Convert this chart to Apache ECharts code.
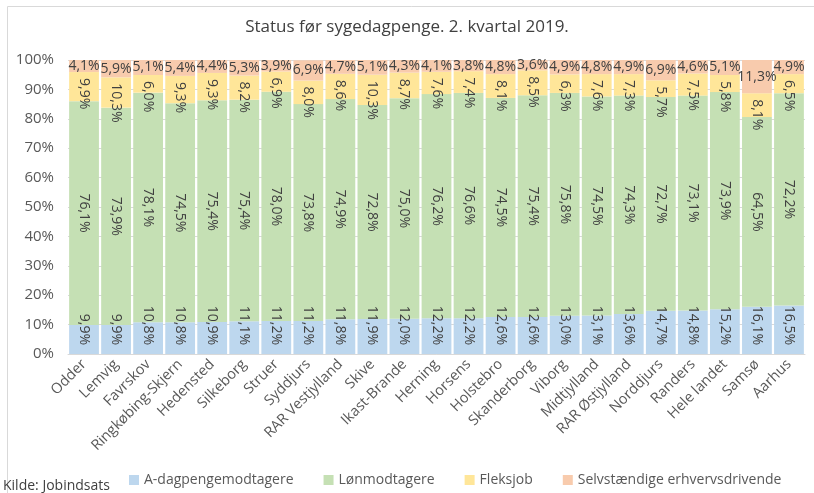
<!DOCTYPE html>
<html><head><meta charset="utf-8">
<script src="https://cdn.jsdelivr.net/npm/echarts@6/dist/echarts.min.js"></script>
<style>html,body{margin:0;padding:0;background:#fff}#c{width:814px;height:493px}</style>
</head><body><div id="c"></div>
<script>
var categories = ['Odder','Lemvig','Favrskov','Ringkøbing-Skjern','Hedensted','Silkeborg','Struer','Syddjurs','RAR Vestjylland','Skive','Ikast-Brande','Herning','Horsens','Holstebro','Skanderborg','Viborg','Midtjylland','RAR Østjylland','Norddjurs','Randers','Hele landet','Samsø','Aarhus'];
var aDagpenge = [9.9,9.9,10.8,10.8,10.9,11.1,11.2,11.2,11.8,11.9,12.0,12.2,12.2,12.6,12.6,13.0,13.1,13.6,14.7,14.8,15.2,16.1,16.5];
var loenmodtagere = [76.1,73.9,78.1,74.5,75.4,75.4,78.0,73.8,74.9,72.8,75.0,76.2,76.6,74.5,75.4,75.8,74.5,74.3,72.7,73.1,73.9,64.5,72.2];
var fleksjob = [9.9,10.3,6.0,9.3,9.3,8.2,6.9,8.0,8.6,10.3,8.7,7.6,7.4,8.1,8.5,6.3,7.6,7.3,5.7,7.5,5.8,8.1,6.5];
var selvstaendige = [4.1,5.9,5.1,5.4,4.4,5.3,3.9,6.9,4.7,5.1,4.3,4.1,3.8,4.8,3.6,4.9,4.8,4.9,6.9,4.6,5.1,11.3,4.9];
var seriesNames = ['A-dagpengemodtagere','Lønmodtagere','Fleksjob','Selvstændige erhvervsdrivende'];
var yTicks = [0,10,20,30,40,50,60,70,80,90,100];

var FONT = '"Open Sans", "Noto Sans", sans-serif';
function fmt(p){ return p.value.toFixed(1).replace('.', ',') + '%'; }
var lbl = {show:true, formatter: fmt, color:'#404040', fontSize:14, fontFamily: FONT};

var chart = echarts.init(document.getElementById('c'));
chart.setOption({
  animation:false,
  title:{text:'Status før sygedagpenge. 2. kvartal 2019.', left:'center', top:14,
    textStyle:{fontSize:17, fontWeight:'normal', color:'#404040', fontFamily: FONT}},
  grid:{left:68, right:9, top:60, bottom:139},
  legend:{bottom:1, left:124, itemWidth:10, itemHeight:10, itemGap:30, icon:'rect', width:700,
    textStyle:{fontSize:14, color:'#595959', fontFamily: FONT}, data: seriesNames},
  graphic:[
    {type:'rect', shape:{x:7.5, y:6.5, width:900, height:600}, style:{fill:'none', stroke:'#D9D9D9', lineWidth:1}, silent:true},
    {type:'text', left:3, bottom:0, style:{text:'Kilde: Jobindsats', fontSize:14, fill:'#404040', fontFamily: FONT}}],
  xAxis:{type:'category', data:categories,
    axisLine:{lineStyle:{color:'#D9D9D9'}}, axisTick:{show:false},
    axisLabel:{rotate:45, interval:0, fontSize:14.5, color:'#595959', fontFamily: FONT, margin:8}},
  yAxis:{type:'value', min:0, max:100, interval:10,
    axisLabel:{formatter: function(v){return v+'%';}, fontSize:15, color:'#595959', fontFamily: FONT, margin:14},
    splitLine:{lineStyle:{color:'#D9D9D9'}}, axisLine:{show:false}, axisTick:{show:false}},
  series:[
    {name:seriesNames[0], type:'bar', stack:'s', data:aDagpenge, barCategoryGap:'7%',
      itemStyle:{color:'#BDD7EE'},
      label:Object.assign({}, lbl, {position:'insideBottom', rotate:-90, align:'right', verticalAlign:'middle', distance:9})},
    {name:seriesNames[1], type:'bar', stack:'s', data:loenmodtagere,
      itemStyle:{color:'#C5E0B4'},
      label:Object.assign({}, lbl, {position:'inside', rotate:-90, align:'center', verticalAlign:'middle'})},
    {name:seriesNames[2], type:'bar', stack:'s', data:fleksjob,
      itemStyle:{color:'#FFE699'},
      label:Object.assign({}, lbl, {position:'insideTop', rotate:-90, align:'left', verticalAlign:'middle', distance:6})},
    {name:seriesNames[3], type:'bar', stack:'s', data:selvstaendige,
      itemStyle:{color:'#F8CBAD'},
      label:Object.assign({}, lbl, {position:'inside'})}
  ]
});
</script></body></html>
